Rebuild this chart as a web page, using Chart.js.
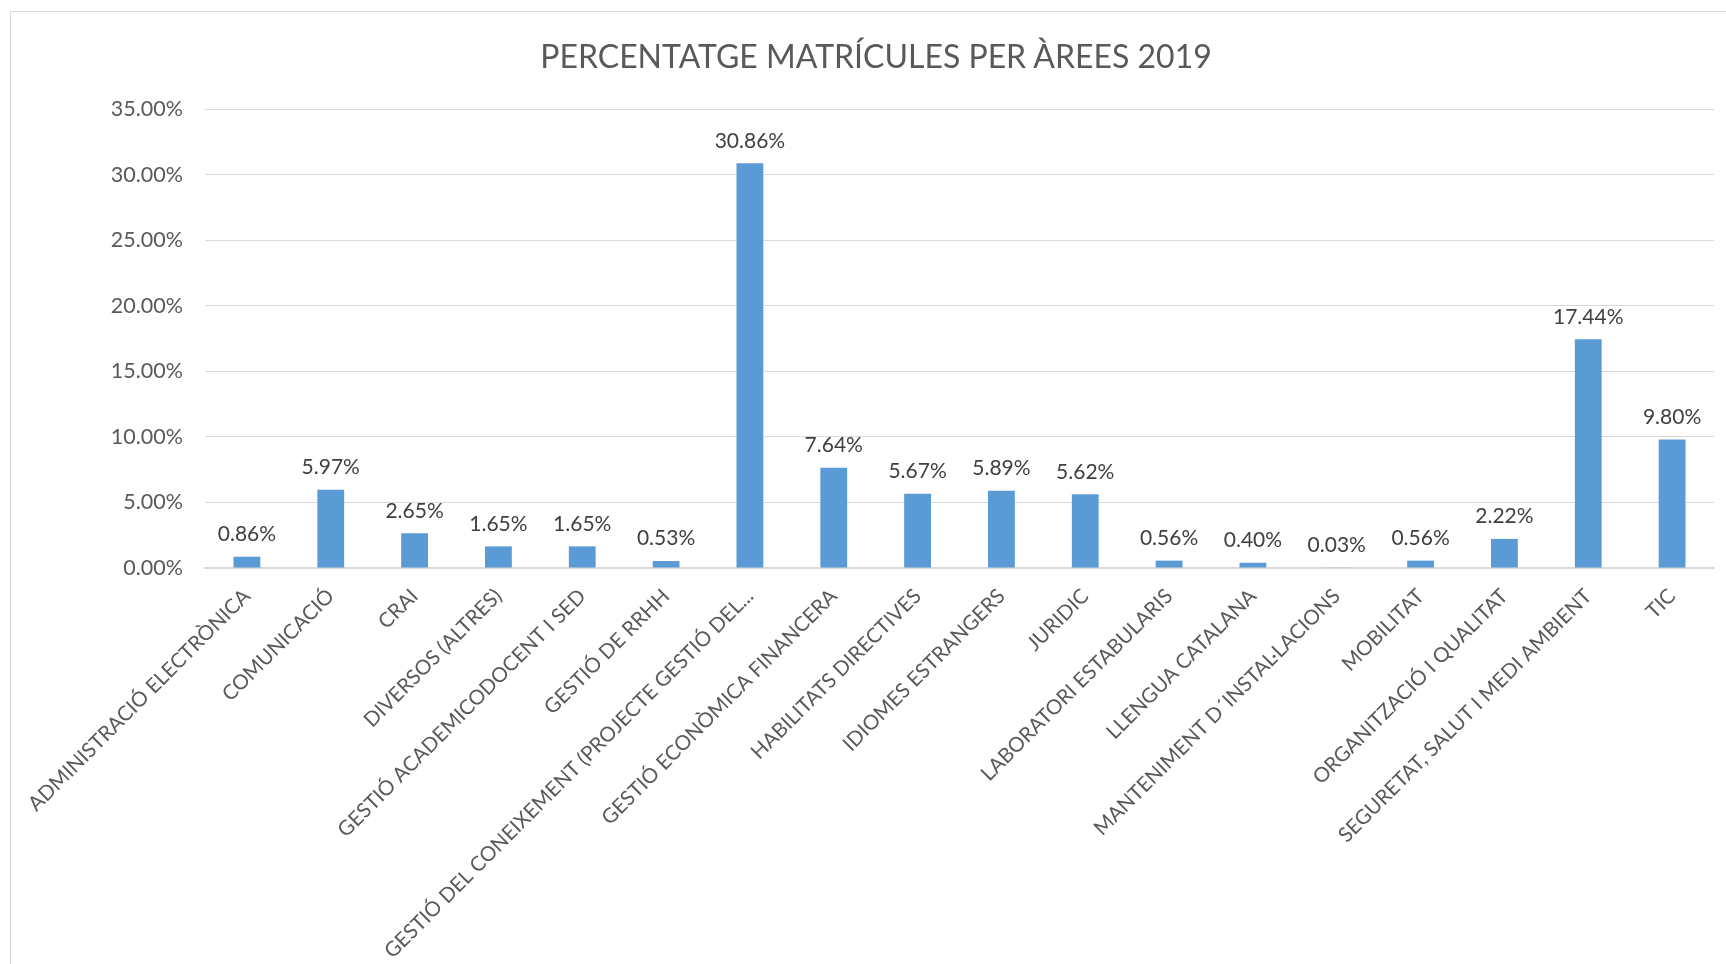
<!DOCTYPE html>
<html>
<head>
<meta charset="utf-8">
<script src="https://cdn.jsdelivr.net/npm/chart.js@4/dist/chart.umd.min.js"></script>
<style>
  html, body { margin: 0; padding: 0; background: #fff; }
  #wrap { position: relative; width: 1726px; height: 964px; overflow: hidden; }
  #frame { position: absolute; left: 10px; top: 11px; right: -5px; bottom: -5px;
           border-left: 1px solid #d9d9d9; border-top: 1px solid #d9d9d9; }
  canvas { position: absolute; left: 0; top: 0; }
  #titol { position: absolute; left: 0; width: 1752px; top: 36px; line-height: 38px;
           text-align: center; font: 32px Lato, "Open Sans", sans-serif; color: #595959; }
</style>
</head>
<body>
<div id="wrap">
  <div id="frame"></div>
  <canvas id="areesChart" width="1726" height="964"></canvas>
  <div id="titol">PERCENTATGE MATRÍCULES PER ÀREES 2019</div>
</div>
<script>
// Dades del gràfic
var arees = [
    'ADMINISTRACIÓ ELECTRÒNICA', 'COMUNICACIÓ', 'CRAI', 'DIVERSOS (ALTRES)',
    'GESTIÓ ACADEMICODOCENT I SED', 'GESTIÓ DE RRHH', 'GESTIÓ DEL CONEIXEMENT (PROJECTE GESTIÓ DEL...',
    'GESTIÓ ECONÒMICA FINANCERA', 'HABILITATS DIRECTIVES', 'IDIOMES ESTRANGERS', 'JURIDIC',
    'LABORATORI ESTABULARIS', 'LLENGUA CATALANA', 'MANTENIMENT D´INSTAL·LACIONS', 'MOBILITAT',
    'ORGANITZACIÓ I QUALITAT', 'SEGURETAT, SALUT I MEDI AMBIENT', 'TIC'
];
var percentatges = [0.86, 5.97, 2.65, 1.65, 1.65, 0.53, 30.86, 7.64, 5.67, 5.89, 5.62, 0.56, 0.40, 0.03, 0.56, 2.22, 17.44, 9.80];
var eixY = { min: 0, max: 35, pas: 5 };

var font = 'Lato, "Open Sans", sans-serif';

// Etiquetes de valor damunt de cada barra
var etiquetesValor = {
    id: 'etiquetesValor',
    afterDatasetsDraw: function(chart) {
        var ctx = chart.ctx;
        var meta = chart.getDatasetMeta(0);
        ctx.save();
        ctx.font = '21px ' + font;
        ctx.fillStyle = '#404040';
        ctx.textAlign = 'center';
        ctx.textBaseline = 'bottom';
        meta.data.forEach(function(bar, i) {
            ctx.fillText(percentatges[i].toFixed(2) + '%', bar.x, bar.y - 12);
        });
        ctx.restore();
    }
};

var ctx = document.getElementById('areesChart').getContext('2d');
new Chart(ctx, {
    type: 'bar',
    data: {
        labels: arees,
        datasets: [{
            data: percentatges,
            backgroundColor: '#5B9BD5',
            barPercentage: 0.32,
            categoryPercentage: 1
        }]
    },
    options: {
        responsive: false,
        animation: false,
        layout: { padding: { left: 10, right: 12, top: 109, bottom: 0 } },
        plugins: {
            legend: { display: false },
            tooltip: { enabled: false },
            title: { display: false }
        },
        scales: {
            y: {
                min: eixY.min,
                max: eixY.max,
                afterFit: function(scale) { scale.width = 195; },
                ticks: {
                    stepSize: eixY.pas,
                    color: '#595959',
                    padding: 22,
                    font: { family: font, size: 21.5 },
                    callback: function(v) { return v.toFixed(2) + '%'; }
                },
                grid: { color: '#d9d9d9', drawTicks: false },
                border: { display: false }
            },
            x: {
                afterFit: function(scale) { scale.height = 396; },
                ticks: {
                    color: '#595959',
                    minRotation: 45,
                    maxRotation: 45,
                    autoSkip: false,
                    padding: 8,
                    font: { family: font, size: 20.5 }
                },
                grid: { display: false },
                border: { color: '#d9d9d9', width: 2 }
            }
        }
    },
    plugins: [etiquetesValor]
});
</script>
</body>
</html>
